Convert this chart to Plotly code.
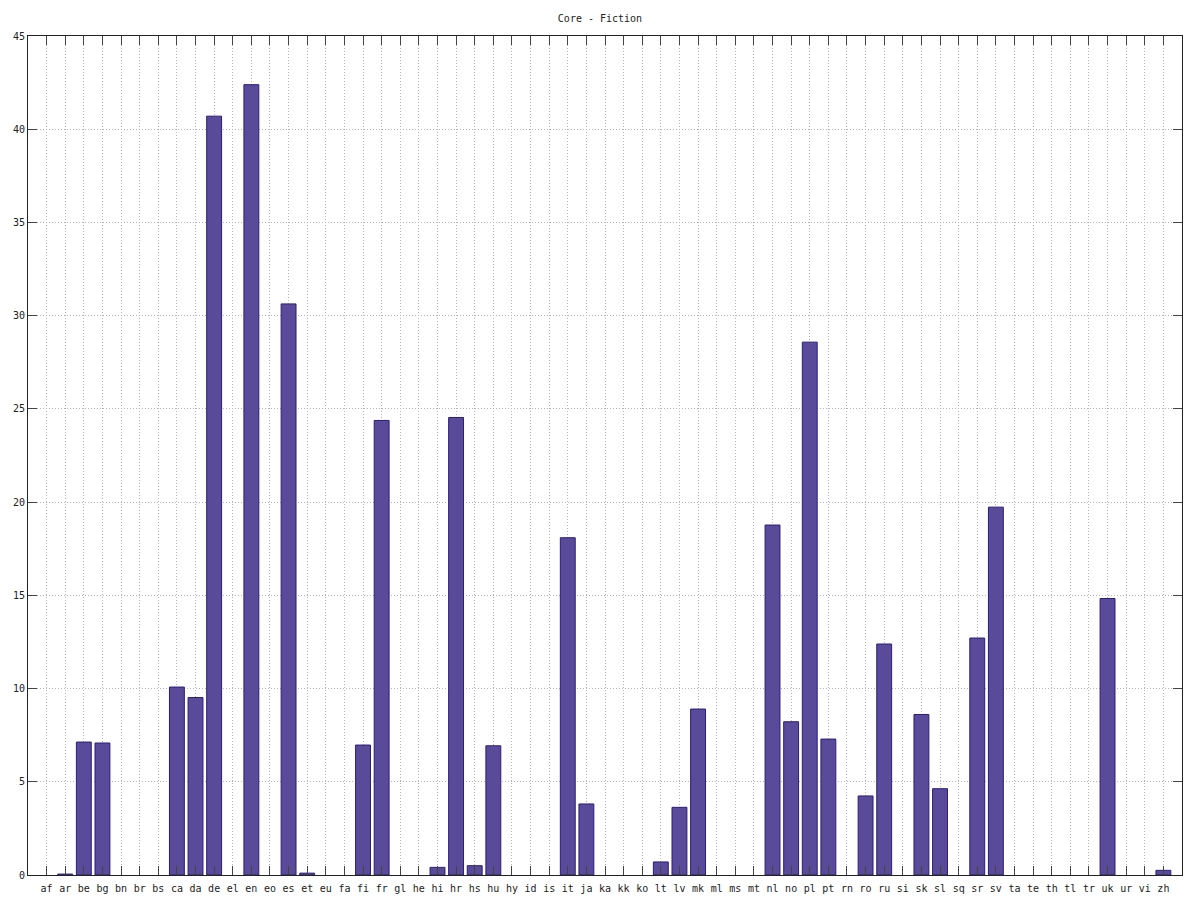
import plotly.graph_objects as go

languages = ["af", "ar", "be", "bg", "bn", "br", "bs", "ca", "da", "de", "el", "en", "eo", "es", "et",
             "eu", "fa", "fi", "fr", "gl", "he", "hi", "hr", "hs", "hu", "hy", "id", "is", "it", "ja",
             "ka", "kk", "ko", "lt", "lv", "mk", "ml", "ms", "mt", "nl", "no", "pl", "pt", "rn", "ro",
             "ru", "si", "sk", "sl", "sq", "sr", "sv", "ta", "te", "th", "tl", "tr", "uk", "ur", "vi", "zh"]

values = [0, 0.05, 7.13, 7.08, 0, 0, 0, 10.08, 9.52, 40.70, 0, 42.39, 0, 30.63, 0.10,
          0, 0, 6.97, 24.38, 0, 0, 0.41, 24.54, 0.50, 6.93, 0, 0, 0, 18.09, 3.81,
          0, 0, 0, 0.70, 3.63, 8.90, 0, 0, 0, 18.77, 8.22, 28.58, 7.29, 0, 4.24,
          12.39, 0, 8.61, 4.63, 0, 12.71, 19.73, 0, 0, 0, 0, 0, 14.83, 0, 0, 0.25]

y_ticks = [0, 5, 10, 15, 20, 25, 30, 35, 40, 45]

font_family = "DejaVu Sans Mono, Liberation Mono, monospace"

# zero-valued languages draw no bar at all
plot_values = [v if v > 0 else None for v in values]

fig = go.Figure(
    go.Bar(
        x=languages,
        y=plot_values,
        marker=dict(color="#5a4a9a", line=dict(color="#2b1d78", width=1)),
        hoverinfo="x+y",
    )
)

# the page body adds an 8px offset, so margins are shifted to compensate
fig.update_layout(
    width=1200,
    height=900,
    margin=dict(l=20, r=26, t=28, b=33, autoexpand=False),
    paper_bgcolor="white",
    plot_bgcolor="white",
    bargap=0.2,
    showlegend=False,
    title=dict(text="Core - Fiction", x=(600 - 8) / 1200, xanchor="center", y=1 - 10 / 900, yanchor="middle",
               automargin=False,
               font=dict(family=font_family, size=10, color="#222222")),
    font=dict(family=font_family, size=10, color="#222222"),
)

grid_style = dict(showgrid=True, gridcolor="#b4b4b4", griddash="1px,2px", gridwidth=1)

fig.update_xaxes(
    type="category",
    categoryorder="array",
    categoryarray=languages,
    range=[-1, 61],
    automargin=False,
    showline=True,
    linecolor="#222222",
    linewidth=1,
    mirror="allticks",
    ticks="inside",
    ticklen=9,
    tickcolor="#444444",
    ticklabelstandoff=4,
    tickfont=dict(family=font_family, size=10, color="#222222"),
    zeroline=False,
    **grid_style,
)

fig.update_yaxes(
    range=[0, 45],
    tickvals=y_ticks,
    automargin=False,
    showline=True,
    linecolor="#222222",
    linewidth=1,
    mirror="allticks",
    ticks="inside",
    ticklen=9,
    tickcolor="#444444",
    tickfont=dict(family=font_family, size=10, color="#222222"),
    zeroline=False,
    **grid_style,
)

fig.write_html("out.html")
